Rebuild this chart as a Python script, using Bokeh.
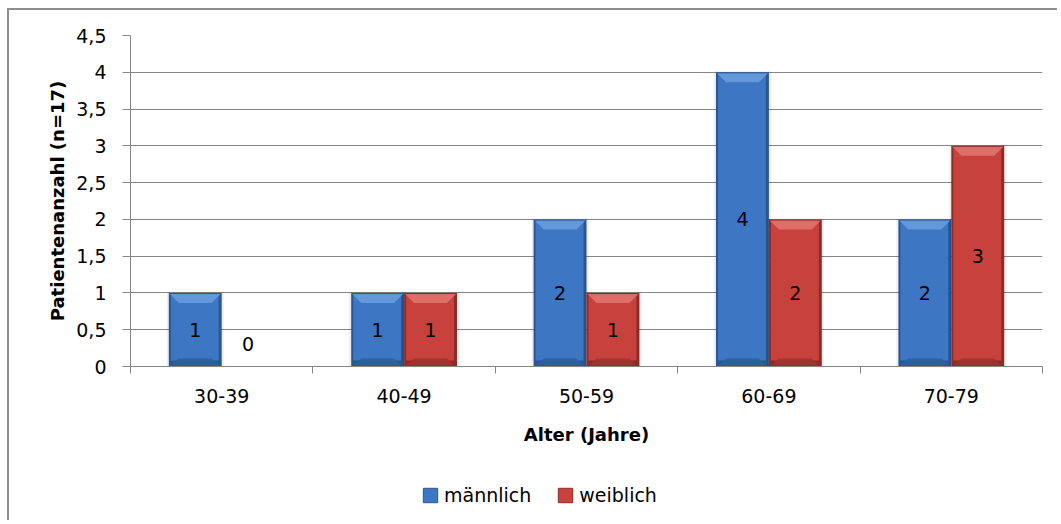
import numpy as np
from bokeh.plotting import figure
from bokeh.layouts import column
from bokeh.models import Range1d, FixedTicker, Legend, LegendItem
from bokeh.core.properties import value
from bokeh.embed import file_html
from bokeh.resources import INLINE

# ---------------- data ----------------
categories = ["30-39", "40-49", "50-59", "60-69", "70-79"]
maennlich = [1, 1, 2, 4, 2]
weiblich = [0, 1, 1, 2, 3]
series_names = ["männlich", "weiblich"]
y_ticks = [0, 0.5, 1, 1.5, 2, 2.5, 3, 3.5, 4, 4.5]
y_tick_labels = ["0", "0,5", "1", "1,5", "2", "2,5", "3", "3,5", "4", "4,5"]
x_title = "Alter (Jahre)"
y_title = "Patientenanzahl (n=17)"

# ---------------- style ----------------
FONT = "DejaVu Sans"
W = 1050
H_MAIN, H_LEG = 456, 56
ML, MT, MR, MB = 121, 25, 17, 100
FRAME_W = W - ML - MR
FRAME_H = H_MAIN - MT - MB
n = len(categories)
y_max = y_ticks[-1]
px_x = n / FRAME_W
px_y = y_max / FRAME_H
GRID = "#868686"

palettes = [
    # dark edge, body, light top, bottom shade
    ("#2a5692", "#3d76c2", "#6a9fe2", "#2f5f9f"),
    ("#8e2b28", "#c7423d", "#e2766f", "#a3322e"),
]

p = figure(width=W, height=H_MAIN, x_range=Range1d(0, n), y_range=Range1d(0, y_max),
           output_backend="svg", toolbar_location=None,
           min_border_left=ML, min_border_top=MT, min_border_right=MR, min_border_bottom=MB)
p.outline_line_color = None
p.background_fill_color = "white"
p.border_fill_color = "white"

xc = np.arange(n) + 0.5
bw = 0.29
offsets = [-bw / 2, bw / 2]

for vals, off, pal in zip([maennlich, weiblich], offsets, palettes):
    v = np.array(vals, dtype=float)
    m = v > 0
    x = xc[m] + off
    t = v[m]
    left = x - bw / 2
    right = x + bw / 2
    # soft glow
    p.quad(left=left - 2 * px_x, right=right + 2 * px_x, top=t + 1 * px_y, bottom=0,
           fill_color="#000000", fill_alpha=0.07, line_color=None)
    # dark edge
    p.quad(left=left, right=right, top=t, bottom=0, fill_color=pal[0], line_color=None)
    # body
    p.quad(left=left + 2 * px_x, right=right - 3 * px_x, top=t - 2 * px_y,
           bottom=6 * px_y, fill_color=pal[1], line_color=None)
    # top / bottom bevel
    xs_top, ys_top, xs_bot, ys_bot = [], [], [], []
    for l, r, tt in zip(left, right, t):
        xs_top.append([l + 1 * px_x, r - 1 * px_x, r - 10 * px_x, l + 10 * px_x])
        ys_top.append([tt - 1 * px_y, tt - 1 * px_y, tt - 10 * px_y, tt - 10 * px_y])
        xs_bot.append([l + 2 * px_x, r - 3 * px_x, r - 10 * px_x, l + 10 * px_x])
        ys_bot.append([1 * px_y, 1 * px_y, 8 * px_y, 8 * px_y])
    p.patches(xs=xs_top, ys=ys_top, fill_color=pal[2], fill_alpha=0.85, line_color=None)
    p.patches(xs=xs_bot, ys=ys_bot, fill_color=pal[3], fill_alpha=0.9, line_color=None)

    # data labels
    yoff = [-23 if val == 0 else 0 for val in vals]
    p.text(x=xc + off, y=v / 2, text=[str(val) for val in vals], y_offset=yoff,
           text_align="center", text_baseline="middle",
           text_font=value(FONT), text_font_size="19px", text_color="#000000")

# ---------------- axes ----------------
p.xaxis.ticker = FixedTicker(ticks=list(xc), minor_ticks=list(range(n + 1)))
p.xaxis.major_label_overrides = {float(x): c for x, c in zip(xc, categories)}
p.xaxis.major_tick_line_color = None
p.xaxis.major_tick_out = 0
p.xaxis.major_tick_in = 0
p.xaxis.minor_tick_line_color = GRID
p.xaxis.minor_tick_out = 7
p.xaxis.minor_tick_in = 0
p.xaxis.axis_line_color = GRID
p.xaxis.major_label_standoff = 15
p.xaxis.axis_label = x_title
p.xaxis.axis_label_standoff = 18

p.yaxis.ticker = FixedTicker(ticks=y_ticks)
p.yaxis.major_label_overrides = {float(k): s for k, s in zip(y_ticks, y_tick_labels)}
p.yaxis.major_tick_line_color = GRID
p.yaxis.major_tick_out = 8
p.yaxis.major_tick_in = 0
p.yaxis.minor_tick_line_color = None
p.yaxis.axis_line_color = GRID
p.yaxis.major_label_standoff = 16
p.yaxis.axis_label = y_title
p.yaxis.axis_label_standoff = 5

for ax in (p.xaxis, p.yaxis):
    ax.major_label_text_font = FONT
    ax.major_label_text_font_size = "19px"
    ax.major_label_text_color = "#000000"
    ax.axis_label_text_font = FONT
    ax.axis_label_text_font_size = "18px"
    ax.axis_label_text_font_style = "bold"
    ax.axis_label_text_color = "#000000"

p.xgrid.grid_line_color = None
p.ygrid.ticker = FixedTicker(ticks=y_ticks)
p.ygrid.grid_line_color = GRID
p.ygrid.grid_line_width = 1

# ---------------- legend (separate strip under the chart) ----------------
q = figure(width=W, height=H_LEG, x_range=Range1d(0, 1), y_range=Range1d(0, 1),
           output_backend="svg", toolbar_location=None,
           min_border_left=ML, min_border_right=MR, min_border_top=0, min_border_bottom=0)
q.axis.visible = False
q.grid.visible = False
q.outline_line_color = None
q.border_fill_color = "white"
legend_items = []
for pal, name in zip(palettes, series_names):
    # zero-size swatch renderers: only used to give the legend its colours
    r = q.quad(left=[0], right=[0], top=[0], bottom=[0],
               fill_color=pal[1], line_color=pal[0], line_width=1)
    legend_items.append(LegendItem(label=name, renderers=[r]))
legend = Legend(items=legend_items, orientation="horizontal", location=(291, 16),
                glyph_width=18, glyph_height=18, label_standoff=5, spacing=25,
                padding=0, margin=0, border_line_color=None, background_fill_alpha=0,
                label_text_font=FONT, label_text_font_size="19px", label_text_color="#000000",
                label_height=20)
q.add_layout(legend, "center")

layout = column(p, q, spacing=0)
layout.styles = {"position": "relative", "left": "9px", "top": "10px",
                 "box-shadow": "-2px -2px 0 0 #8e8e8e"}

open("out.html", "w").write(file_html(layout, INLINE))
